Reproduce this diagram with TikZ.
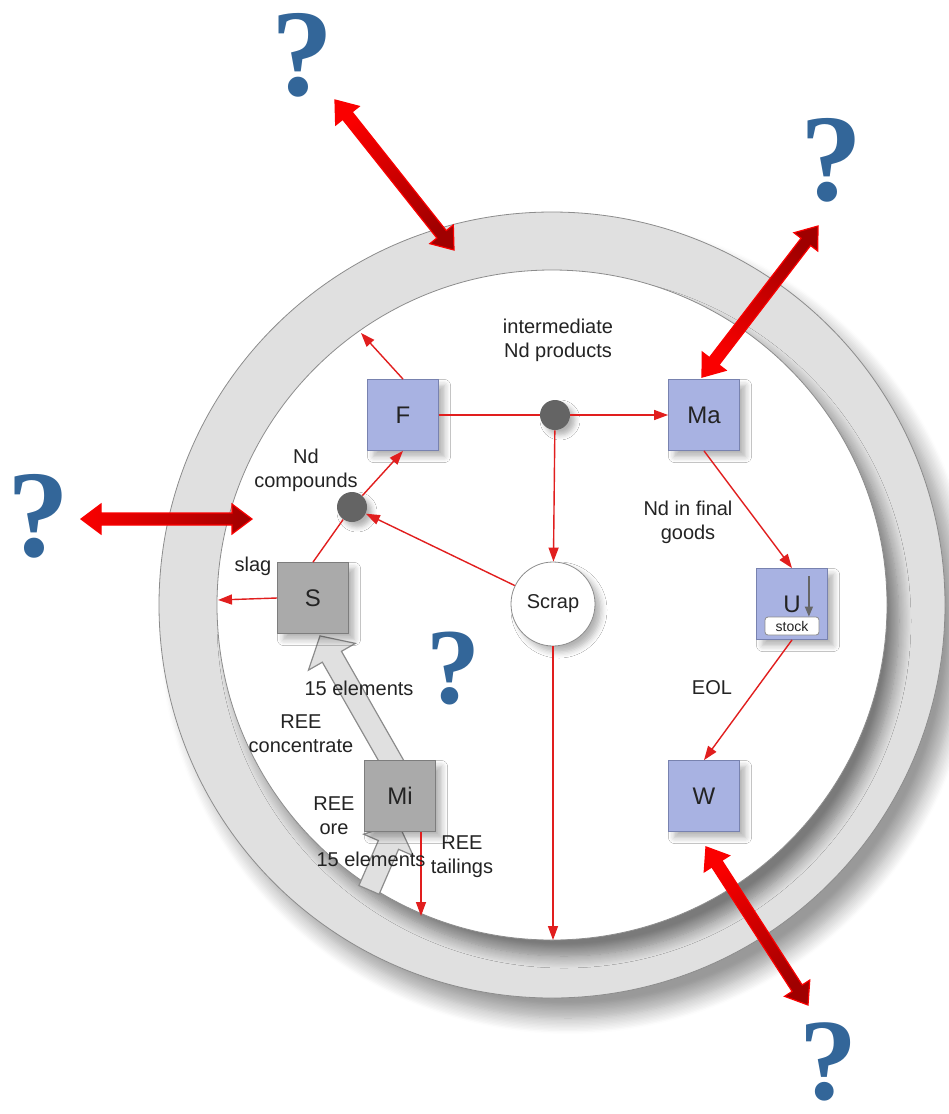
\documentclass[tikz,border=0pt]{standalone}
\usepackage{fontspec}
\setmainfont{Liberation Sans}
\newfontfamily\qfont{Liberation Serif}
\usetikzlibrary{arrows.meta,calc,backgrounds,shadows.blur}

\definecolor{ringgray}{RGB}{224,224,224}
\definecolor{ringline}{RGB}{140,140,140}
\definecolor{boxblue}{RGB}{168,178,226}
\definecolor{boxblueline}{RGB}{120,130,175}
\definecolor{boxgray}{RGB}{170,170,170}
\definecolor{boxgrayline}{RGB}{125,125,125}
\definecolor{dotgray}{RGB}{100,100,100}
\definecolor{flowred}{RGB}{225,30,30}
\definecolor{qblue}{RGB}{51,102,153}
\definecolor{hotred}{RGB}{250,0,0}
\definecolor{deepred}{RGB}{160,0,0}
\definecolor{txtgray}{RGB}{35,35,35}

\tikzset{
  stage/.style={draw=boxblueline, fill=boxblue, minimum size=35.5pt, inner sep=0pt,
    font=\fontsize{12}{14}\selectfont, text=txtgray,
    blur shadow={shadow xshift=3pt, shadow yshift=-3pt, shadow blur radius=3pt,
      shadow blur steps=5, shadow opacity=30}},
  mine/.style={stage, draw=boxgrayline, fill=boxgray},
  junction/.style={circle, fill=dotgray, minimum size=15pt, inner sep=0pt,
    blur shadow={shadow xshift=2.5pt, shadow yshift=-2.5pt, shadow blur radius=2.5pt,
      shadow blur steps=5, shadow opacity=30}},
  pool/.style={circle, draw=ringline, fill=white, minimum size=42pt, inner sep=0pt,
    font=\fontsize{10}{12}\selectfont, text=txtgray,
    blur shadow={shadow xshift=3pt, shadow yshift=-3pt, shadow blur radius=3pt,
      shadow blur steps=5, shadow opacity=30}},
  stockbox/.style={draw=ringline, fill=white, rounded corners=1.5pt, minimum width=27pt,
    minimum height=9pt, inner sep=0pt, font=\fontsize{7}{8}\selectfont, text=txtgray},
  stockflow/.style={draw=gray!80!black, line width=0.7pt, -{Triangle[width=4pt,length=5pt]}},
  flow/.style={flowred, line width=0.7pt, -{Triangle[width=5pt,length=7pt]}},
  lbl/.style={align=center, font=\fontsize{10}{12}\selectfont, text=txtgray, inner sep=0pt},
  query/.style={text=qblue, font=\qfont\bfseries\fontsize{62}{62}\selectfont, inner sep=0pt},
  bulk/.style={draw=ringline, fill=ringgray, line width=0.6pt},
  bigarrow/.style={draw=hotred, line width=0.6pt, top color=hotred, bottom color=deepred},
}

% wide grey stream, tail -> tip
\newcommand\bulkflow[2]{%
  \coordinate (bf-h) at ($(#2)!12pt!(#1)$);
  \path[bulk] ($(#1)!5.5pt!90:(#2)$) -- ($(bf-h)!5.5pt!90:(#2)$) -- ($(bf-h)!13.5pt!90:(#2)$)
    -- (#2) -- ($(bf-h)!13.5pt!-90:(#2)$) -- ($(bf-h)!5.5pt!-90:(#2)$)
    -- ($(#1)!5.5pt!-90:(#2)$) -- cycle;
}
% red two-headed arrow, end, end, shading angle
\newcommand\twoway[3]{%
  \coordinate (tw-a) at ($(#1)!10pt!(#2)$);
  \coordinate (tw-b) at ($(#2)!10pt!(#1)$);
  \path[bigarrow, shading angle=#3] (#1) -- ($(tw-a)!7.5pt!90:(#2)$) -- ($(tw-a)!3pt!90:(#2)$)
    -- ($(tw-b)!3pt!-90:(#1)$) -- ($(tw-b)!7.5pt!-90:(#1)$) -- (#2)
    -- ($(tw-b)!7.5pt!90:(#1)$) -- ($(tw-b)!3pt!90:(#1)$)
    -- ($(tw-a)!3pt!-90:(#2)$) -- ($(tw-a)!7.5pt!-90:(#2)$) -- cycle;
}

\begin{document}
\begin{tikzpicture}[x=0.5pt,y=-0.5pt]
  \useasboundingbox (0,0) rectangle (948,1114);

  \node[stage] (F) at (403,415) {F};
  \node[stage] (Ma) at (704,415) {Ma};
  \node[stage] (U) at (792,604) {U};
  \node[stage] (W) at (704,796) {W};
  \node[mine] (S) at (313,598) {S};
  \node[mine] (Mi) at (400,796) {Mi};
  \node[junction] (split) at (555,415) {};
  \node[junction] (merge) at (352,507) {};
  \node[pool] (scrap) at (553,604) {Scrap};
  \node[stockbox] (stock) at (792,626) {stock};

  \begin{scope}[on background layer]
    \path[draw=ringline, fill=ringgray,
      blur shadow={shadow xshift=8pt, shadow yshift=-10pt, shadow blur radius=8pt,
        shadow blur steps=12, shadow opacity=40}]
      (552,605) circle (196.5pt);
    \path[draw=ringline, fill=white,
      blur shadow={shadow xshift=6pt, shadow yshift=-8pt, shadow blur radius=6pt,
        shadow blur steps=12, shadow opacity=45}]
      (552,605) circle (167.5pt);
    \coordinate (ore-in) at ($(Mi.south)+(-31,58)$);
    \coordinate (ore-tip) at ($(Mi.south)+(-2,-9)$);
    \coordinate (conc-in) at ($(Mi.north)+(4,23)$);
    \coordinate (conc-tip) at ($(S.south)+(7,2)$);
    \bulkflow{ore-in}{ore-tip}
    \bulkflow{conc-in}{conc-tip}
  \end{scope}

  \coordinate (fout) at (361,333);
  \coordinate (slagout) at (218,600);
  \coordinate (scrapout) at (553,940);
  \coordinate (tailout) at (421,916);
  \coordinate (uin) at ($(U.north east)+(-19,8)$);

  \begin{scope}[flow]
    \draw (F.north) -- (fout);
    \draw[-] (F.east) -- (split);
    \draw (split) -- (Ma.west);
    \draw (split) -- (scrap);
    \draw (scrap) -- (merge);
    \draw[-] (S.north) -- (merge);
    \draw (merge) -- (F.south);
    \draw (S.west) -- (slagout);
    \draw (Ma.south) -- (U.north);
    \draw (U.south) -- (W.north);
    \draw (scrap.south) -- (scrapout);
    \draw (Mi.south -| tailout) -- (tailout);
  \end{scope}
  \draw[stockflow] (uin) -- (uin |- stock.north);

  \node[lbl] (inter) at (558,340) {intermediate\\Nd products};
  \node[lbl] (ndcomp) at (306,470) {Nd\\compounds};
  \node[lbl] (slag) at (253,566) {slag};
  \node[lbl] (final) at (688,522) {Nd in final\\goods};
  \node[lbl] (eol) at (712,688) {EOL};
  \node[lbl] (elem-a) at (359,688) {15 elements};
  \node[lbl] (conc) at (301,734) {REE\\concentrate};
  \node[lbl] (ore) at (334,816) {REE\\ore};
  \node[lbl] (elem-b) at (371,859) {15 elements};
  \node[lbl] (tail) at (462,857) {REE\\tailings};

  \coordinate (top-q) at (335,100);
  \coordinate (top-ring) at (454,250);
  \coordinate (left-q) at (81,519);
  \coordinate (left-ring) at (252,519);
  \coordinate (ma-q) at (818,226);
  \coordinate (ma-end) at ($(Ma.north)+(-2,-2)$);
  \coordinate (w-end) at ($(W.south)+(2,15)$);
  \coordinate (w-q) at (808,1005);
  \twoway{top-q}{top-ring}{38}
  \twoway{left-q}{left-ring}{90}
  \twoway{ma-q}{ma-end}{142}
  \twoway{w-end}{w-q}{33}

  \node[query] (q-top) at (302,55) {?};
  \node[query] (q-ma) at (831,160) {?};
  \node[query] (q-left) at (38,516) {?};
  \node[query, font=\qfont\bfseries\fontsize{58}{58}\selectfont] (q-w) at (828,1062) {?};
  \node[query, font=\qfont\bfseries\fontsize{54}{54}\selectfont] (q-mid) at (453,669) {?};
\end{tikzpicture}
\end{document}
